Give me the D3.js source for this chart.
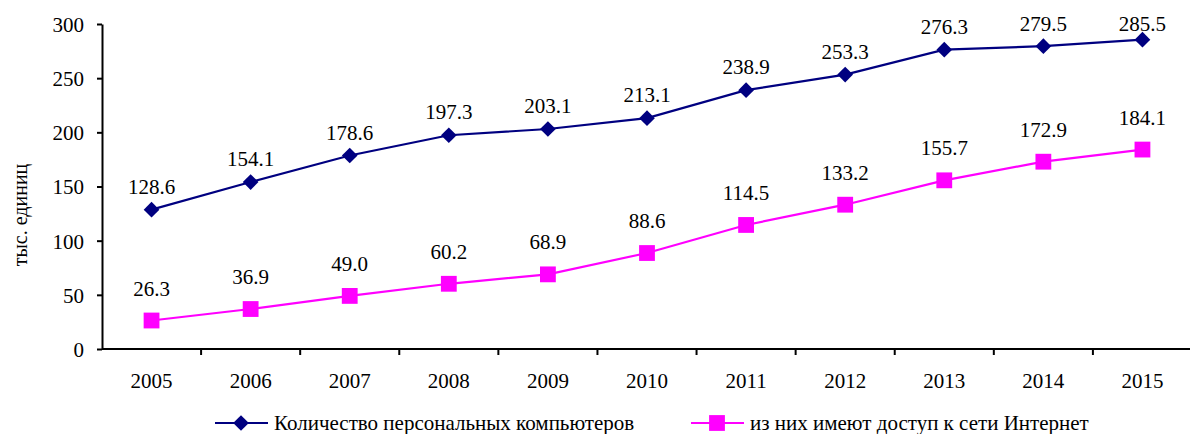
<!DOCTYPE html>
<html lang="ru">
<head>
  <meta charset="UTF-8">
  <title>ПК</title>
  <script src="https://d3js.org/d3.v7.min.js"></script>
  <style>
    body { margin: 0; background: #fff; }
    svg text { font-family: "Liberation Serif", "DejaVu Serif", serif !important; fill: #000; }
    .axis path, .axis line { stroke: #000; stroke-width: 2; }
  </style>
</head>
<body>
<script>
  // data
  var years = ["2005","2006","2007","2008","2009","2010","2011","2012","2013","2014","2015"];
  var pcTotal = [128.6,154.1,178.6,197.3,203.1,213.1,238.9,253.3,276.3,279.5,285.5];
  var pcInternet = [26.3,36.9,49.0,60.2,68.9,88.6,114.5,133.2,155.7,172.9,184.1];
  var yTicks = [0,50,100,150,200,250,300];
  var seriesNames = ["Количество персональных компьютеров", "из них имеют доступ к сети Интернет"];

  var W = 1190, H = 434;
  var margin = {top: 24, right: -2, bottom: 85, left: 102};
  var width = W - margin.left - margin.right,
      height = H - margin.top - margin.bottom;
  var fs = "21px";

  var svg = d3.select("body").append("svg")
    .attr("width", W).attr("height", H)
    .attr("font-family", "Liberation Serif");
  var g = svg.append("g")
    .attr("transform", "translate(" + margin.left + "," + margin.top + ")");

  var x = d3.scaleBand().domain(years).range([0, width]);
  var y = d3.scaleLinear().domain([0, 300]).range([height, 0]);

  // y axis
  var yAxis = g.append("g").attr("class", "axis")
    .call(d3.axisLeft(y).tickValues(yTicks).tickSize(5).tickPadding(13).tickSizeOuter(0));
  yAxis.attr("font-family", null);
  yAxis.selectAll("text").style("font-size", fs).attr("dy", "0.35em");

  // x axis, ticks at category boundaries
  var xAxis = g.append("g").attr("class", "axis")
    .attr("transform", "translate(0," + height + ")");
  xAxis.append("line").attr("x1", 0).attr("x2", width).attr("y1", 0).attr("y2", 0);
  xAxis.selectAll(".tk").data(years.slice(1)).enter().append("line")
    .attr("x1", function(d) { return x(d); }).attr("x2", function(d) { return x(d); })
    .attr("y1", 0).attr("y2", 6);
  xAxis.selectAll(".lbl").data(years).enter().append("text")
    .attr("x", function(d) { return x(d) + x.bandwidth() / 2; })
    .attr("y", 39)
    .attr("text-anchor", "middle")
    .style("font-size", fs)
    .text(function(d) { return d; });

  // y title
  svg.append("text")
    .attr("transform", "translate(27,215) rotate(-90)")
    .attr("text-anchor", "middle")
    .style("font-size", "20px")
    .text("тыс. единиц");

  var cx = function(d, i) { return x(years[i]) + x.bandwidth() / 2; };
  var line = d3.line().x(cx).y(function(d) { return y(d); });

  var series = [
    {vals: pcTotal, color: "#000080", size: 123, rot: 45, off: 16},
    {vals: pcInternet, color: "#ff00ff", size: 250, rot: 0, off: 25}
  ];
  var marker = function(s) { return d3.symbol().type(d3.symbolSquare).size(s.size)(); };

  series.forEach(function(s) {
    g.append("path").datum(s.vals)
      .attr("fill", "none").attr("stroke", s.color).attr("stroke-width", 2.2)
      .attr("d", line);
    g.selectAll(null).data(s.vals).enter().append("path")
      .attr("d", marker(s))
      .attr("fill", s.color)
      .attr("transform", function(d, i) {
        return "translate(" + cx(d, i) + "," + y(d) + ") rotate(" + s.rot + ")";
      });
    g.selectAll(null).data(s.vals).enter().append("text")
      .attr("x", cx)
      .attr("y", function(d) { return Math.max(y(d) - s.off, 7); })
      .attr("text-anchor", "middle")
      .style("font-size", fs)
      .text(function(d) { return d.toFixed(1); });
  });

  // legend
  var legend = svg.append("g").attr("transform", "translate(0,423)");
  var legX = [215, 691];
  series.forEach(function(s, i) {
    var lg = legend.append("g").attr("transform", "translate(" + legX[i] + ",0)");
    lg.append("line").attr("x1", 0).attr("x2", 53).attr("y1", 0).attr("y2", 0)
      .attr("stroke", s.color).attr("stroke-width", 2.2);
    lg.append("path").attr("d", marker(s))
      .attr("fill", s.color)
      .attr("transform", "translate(26,0) rotate(" + s.rot + ")");
    lg.append("text").attr("x", 59).attr("y", 0).attr("dy", "0.33em")
      .style("font-size", fs)
      .text(seriesNames[i]);
  });
</script>
</body>
</html>
